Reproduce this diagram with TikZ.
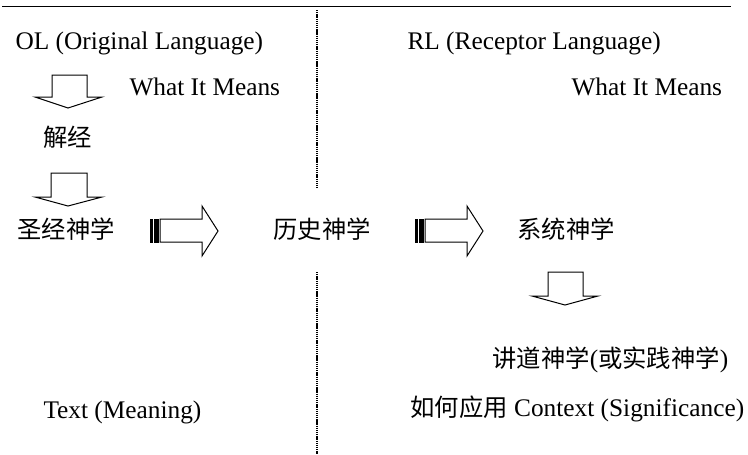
\documentclass[tikz,border=0pt]{standalone}
\usepackage{fontspec}
\setmainfont{Liberation Serif}
\newfontfamily\cjk[Scale=0.96]{Noto Sans CJK SC}
\begin{document}
\tikzset{every picture/.style={line width=0.75pt}}
\tikzset{lbl/.style={font=\fontsize{19}{23}\selectfont, inner sep=0pt, anchor=west},
  sep line/.style={line width=1.4pt, dash pattern=on 1pt off 0.6pt}}

\begin{tikzpicture}[x=0.75pt,y=0.75pt,yscale=-1,xscale=1]
\useasboundingbox (0,0) rectangle (748,454);

%Shape: Line [id:top]
\draw  (2,6) -- (731,6) ;
%Shape: Dashed Line [id:sep]
\draw [sep line]  (317,10) -- (317,188) ;
\draw [sep line]  (317,272) -- (317,454) ;

%Shape: Down Arrow [id:down1]
\draw  (52,75) -- (87,75) -- (87,97) -- (102,97) -- (68,108) -- (35,97) -- (52,97) -- cycle ;
%Shape: Down Arrow [id:down2]
\draw  (51,173) -- (87,173) -- (87,197) -- (102,197) -- (68,206) -- (35,197) -- (51,197) -- cycle ;
%Shape: Down Arrow [id:down3]
\draw  (548,272) -- (583,272) -- (583,296) -- (598,296) -- (565,305) -- (532,296) -- (548,296) -- cycle ;

%Shape: Striped Right Arrow [id:right1]
\draw  (160,219) -- (202,219) -- (202,206) -- (218,231) -- (202,256) -- (202,242) -- (160,242) -- cycle ;
\draw  [fill={rgb, 255:red, 0; green, 0; blue, 0 }  ,fill opacity=1 ] (150,219) rectangle (152,242) ;
\draw  [fill={rgb, 255:red, 0; green, 0; blue, 0 }  ,fill opacity=1 ] (154,219) rectangle (158,242) ;
%Shape: Striped Right Arrow [id:right2]
\draw  (425,219) -- (467,219) -- (467,206) -- (483,231) -- (467,256) -- (467,242) -- (425,242) -- cycle ;
\draw  [fill={rgb, 255:red, 0; green, 0; blue, 0 }  ,fill opacity=1 ] (415,219) rectangle (417,242) ;
\draw  [fill={rgb, 255:red, 0; green, 0; blue, 0 }  ,fill opacity=1 ] (419,219) rectangle (423,242) ;

% Text Node
\draw (15,43) node[lbl] (ol)   {OL (Original Language)};
% Text Node
\draw (129,87) node[lbl] (meansl)   {What It Means};
% Text Node
\draw (43,137) node[lbl] (jiejing)   {\cjk 解经};
% Text Node
\draw (17,229) node[lbl] (shengjing)   {\cjk 圣经神学};
% Text Node
\draw (273,229) node[lbl] (lishi)   {\cjk 历史神学};
% Text Node
\draw (43,412) node[lbl] (textm)   {Text (Meaning)};
% Text Node
\draw (407,43) node[lbl] (rl)   {RL (Receptor Language)};
% Text Node
\draw (571,87) node[lbl] (meansr)   {What It Means};
% Text Node
\draw (517,229) node[lbl] (xitong)   {\cjk 系统神学};
% Text Node
\draw (492,360) node[lbl] (jiangdao)   {{\cjk 讲道神学}({\cjk 或实践神学})};
% Text Node
\draw (410,409) node[lbl] (yingyong)   {{\cjk 如何应用} Context (Significance)};

\end{tikzpicture}
\end{document}
